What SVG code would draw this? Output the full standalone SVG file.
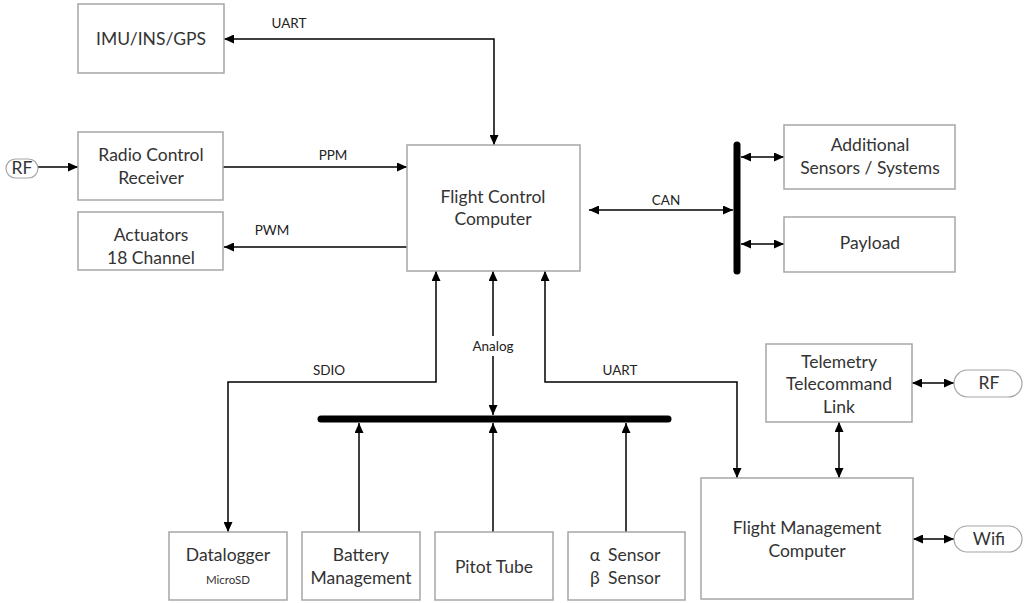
<svg xmlns="http://www.w3.org/2000/svg" width="1026" height="603" viewBox="0 0 1026 603">
<defs>
<marker id="ah" markerUnits="userSpaceOnUse" markerWidth="11" markerHeight="9" refX="10" refY="4.5" orient="auto-start-reverse" viewBox="0 0 11 9">
<path d="M0,0 L10,4.5 L0,9 z" fill="#000"/>
</marker>
<style>
.box{fill:#fff;stroke:#a6a6a6;stroke-width:1.5}
.pill{fill:#fff;stroke:#a6a6a6;stroke-width:1.2}
.t{font-family:Lato,"Liberation Sans",sans-serif;font-size:17.5px;fill:#333;text-anchor:middle}
.st{font-family:Lato,"Liberation Sans",sans-serif;font-size:17.5px;fill:#333;text-anchor:start}
.s{font-family:Lato,"Liberation Sans",sans-serif;font-size:11.5px;fill:#333;text-anchor:middle}
.lbl{font-family:Lato,"Liberation Sans",sans-serif;font-size:13.5px;fill:#222;text-anchor:middle}
.c{fill:none;stroke:#000;stroke-width:1.5}
.ae{marker-end:url(#ah)}
.ab{marker-start:url(#ah);marker-end:url(#ah)}
.bus{stroke:#000;stroke-width:7;stroke-linecap:round}
</style>
</defs>
<rect width="1026" height="603" fill="#fff"/>

<g id="connectors">
<line class="bus" x1="737" y1="145" x2="737" y2="271"/>
<line class="bus" x1="321" y1="419" x2="668" y2="419"/>
<polyline class="c ab" points="224,39 494,39 494,145"/>
<line class="c ae" x1="38" y1="167" x2="78" y2="167"/>
<line class="c ae" x1="223" y1="167" x2="407" y2="167"/>
<line class="c ae" x1="407" y1="247" x2="224" y2="247"/>
<line class="c ab" x1="589" y1="210" x2="733" y2="210"/>
<line class="c ab" x1="741" y1="157" x2="784" y2="157"/>
<line class="c ab" x1="741" y1="244" x2="784" y2="244"/>
<polyline class="c ab" points="436,271 436,382 228,382 228,532"/>
<line class="c ab" x1="493" y1="271" x2="493" y2="415"/>
<rect x="468" y="336" width="50" height="20" fill="#fff"/>
<polyline class="c ab" points="545,271 545,382 737,382 737,478"/>
<line class="c ae" x1="359" y1="532" x2="359" y2="423"/>
<line class="c ae" x1="493" y1="532" x2="493" y2="423"/>
<line class="c ae" x1="626" y1="532" x2="626" y2="423"/>
<line class="c ab" x1="912" y1="383" x2="954" y2="383"/>
<line class="c ab" x1="839" y1="422" x2="839" y2="478"/>
<line class="c ab" x1="913" y1="539" x2="954" y2="539"/>
<text class="lbl" x="289" y="28">UART</text>
<text class="lbl" x="333" y="160">PPM</text>
<text class="lbl" x="272" y="235">PWM</text>
<text class="lbl" x="666" y="205">CAN</text>
<text class="lbl" x="329" y="375">SDIO</text>
<text class="lbl" x="493" y="351">Analog</text>
<text class="lbl" x="620" y="375">UART</text>
</g>

<g id="imu"><rect class="box" x="78" y="4" width="146" height="69"/><text class="t" x="151" y="45">IMU/INS/GPS</text></g>
<g id="rf-left"><rect class="pill" x="6" y="159" width="32" height="19" rx="9.5"/><text class="t" x="22" y="174">RF</text></g>
<g id="rc-receiver"><rect class="box" x="78" y="132" width="145" height="68"/><text class="t" x="151" y="161">Radio Control</text><text class="t" x="151" y="184">Receiver</text></g>
<g id="actuators"><rect class="box" x="78" y="212" width="145" height="58"/><text class="t" x="151" y="241">Actuators</text><text class="t" x="151" y="264">18 Channel</text></g>
<g id="fcc"><rect class="box" x="407" y="145" width="173" height="126"/><text class="t" x="493" y="203">Flight Control</text><text class="t" x="493" y="225">Computer</text></g>
<g id="additional"><rect class="box" x="784" y="125" width="171" height="64"/><text class="t" x="870" y="151">Additional</text><text class="t" x="870" y="174">Sensors / Systems</text></g>
<g id="payload"><rect class="box" x="784" y="217" width="171" height="55"/><text class="t" x="870" y="249">Payload</text></g>
<g id="telemetry"><rect class="box" x="766" y="344" width="146" height="78"/><text class="t" x="839" y="368">Telemetry</text><text class="t" x="839" y="390">Telecommand</text><text class="t" x="839" y="413">Link</text></g>
<g id="rf-right"><rect class="pill" x="954" y="370" width="68" height="27" rx="13.5"/><text class="t" x="989" y="389">RF</text></g>
<g id="fmc"><rect class="box" x="701" y="478" width="212" height="121"/><text class="t" x="807" y="534">Flight Management</text><text class="t" x="807" y="557">Computer</text></g>
<g id="wifi"><rect class="pill" x="954" y="526" width="68" height="26" rx="13"/><text class="t" x="989" y="545">Wifi</text></g>
<g id="datalogger"><rect class="box" x="169" y="532" width="118" height="68"/><text class="t" x="228" y="561">Datalogger</text><text class="s" x="228" y="584">MicroSD</text></g>
<g id="battery"><rect class="box" x="302" y="532" width="118" height="68"/><text class="t" x="361" y="561">Battery</text><text class="t" x="361" y="584">Management</text></g>
<g id="pitot"><rect class="box" x="435" y="532" width="118" height="68"/><text class="t" x="494" y="573">Pitot Tube</text></g>
<g id="ab-sensor"><rect class="box" x="568" y="532" width="117" height="68"/><text class="t" x="595" y="561">α</text><text class="st" x="608" y="561">Sensor</text><text class="t" x="595" y="584">β</text><text class="st" x="608" y="584">Sensor</text></g>
</svg>
